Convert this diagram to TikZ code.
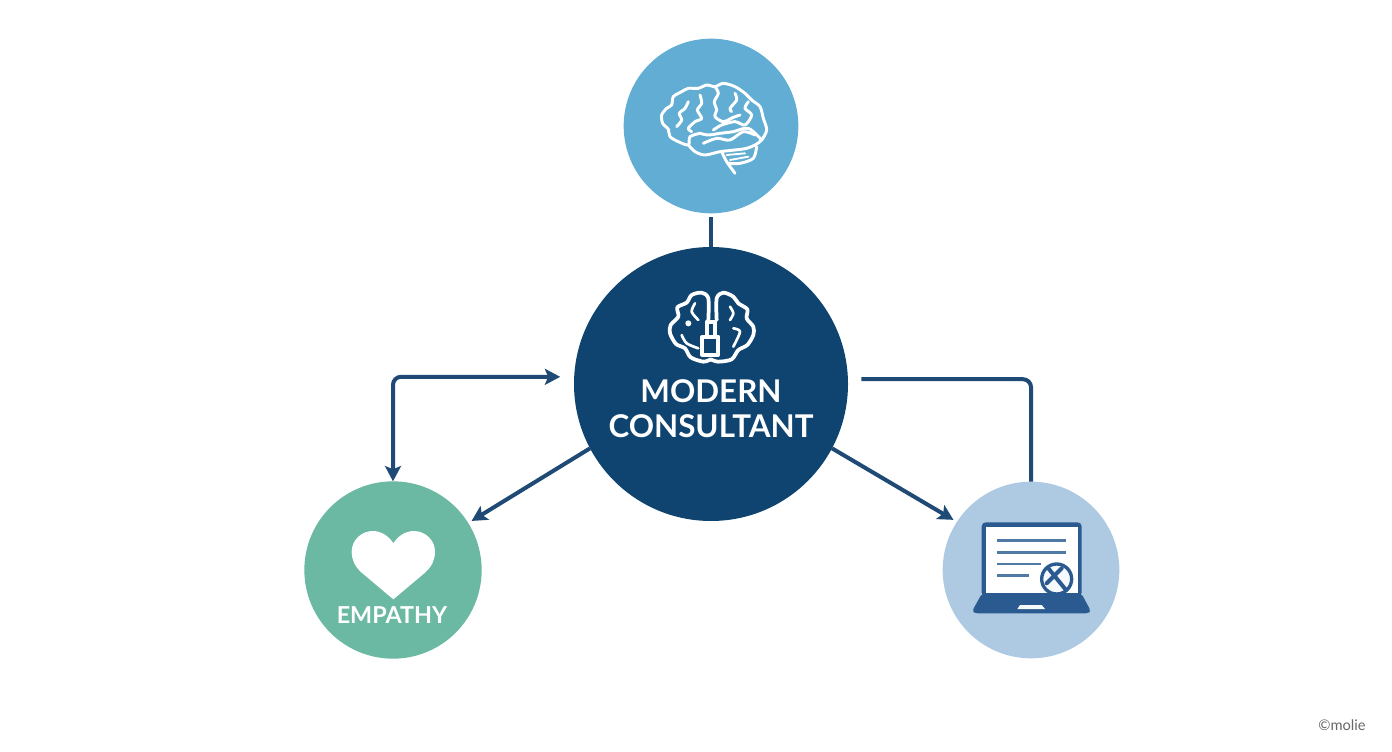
\documentclass[tikz,border=0pt]{standalone}
\usepackage{fontspec}
\setmainfont{Lato}
\usepackage{tikz}
\usetikzlibrary{arrows.meta}
\definecolor{coreblue}{HTML}{0F4470}
\definecolor{topblue}{HTML}{62ADD3}
\definecolor{leftgreen}{HTML}{6BB8A3}
\definecolor{rightblue}{HTML}{AECAE3}
\definecolor{linkblue}{HTML}{1F4A75}
\definecolor{lapblue}{HTML}{2A5A8F}
\definecolor{rowblue}{HTML}{4F7AA5}
\tikzset{
  >={Stealth[length=11.5pt,width=12pt,inset=2.5pt]},
  hub/.style={circle,inner sep=0pt,outer sep=0pt},
  link/.style={draw=linkblue,line width=3pt,rounded corners=6pt},
  wire/.style={white,line width=2.2pt,line cap=round,line join=round},
}
\begin{document}
\begin{tikzpicture}[x=.75pt,y=-.75pt]
\useasboundingbox (0,0) rectangle (1392,752);
\node[hub,fill=topblue,minimum size=131pt] (Top) at (711,126) {};
\node[hub,fill=coreblue,minimum size=205.5pt] (Core) at (711,384) {};
\node[hub,fill=leftgreen,minimum size=133pt] (Left) at (393,570) {};
\node[hub,fill=rightblue,minimum size=132.5pt] (Right) at (1031,570) {};
\draw[link,shorten <=3pt] (Top) -- (Core);
\draw[link,<->,shorten <=10.5pt] (Core.177.5) -| (Left.north);
\draw[link,shorten <=10pt] (Core.2.5) -| (Right.north);
\draw[link,->,shorten >=3pt] (Core.208) -- (Left.32);
\draw[link,->,shorten >=3pt] (Core.332.5) -- (Right.147);
\node[text=white,align=center,font=\bfseries\fontsize{23.5}{26.3}\selectfont] (Title) at (711,408.5) {MODERN\\CONSULTANT};
\node[text=white,font=\fontsize{17.5}{21}\selectfont\bfseries] (Empathy) at (392,615) {EMPATHY};
\node[text=black!60,font=\fontsize{11}{13}\selectfont] (Mark) at (1342,725) {©molie};
\begin{scope}[shift={(620,30)},x=.25pt,y=-.25pt]
\draw[wire] plot[smooth] coordinates {(240,310) (210,320) (205,345) (175,335) (150,320) (145,298) (128,280) (125,255) (140,235) (155,225) (160,200) (185,185) (205,175) (235,175) (260,165) (285,170) (310,160) (345,170) (375,190) (395,210) (420,230) (430,265) (440,300) (425,330) (405,345) (380,355) (345,360) (300,365) (255,375) (225,365) (205,345)};
\draw[wire] plot[smooth] coordinates {(285,170) (295,190) (283,215) (290,240) (285,260) (310,275) (340,262) (360,255)};
\draw[wire] plot[smooth] coordinates {(240,195) (245,220) (232,240) (245,265) (225,275) (205,295) (215,305)};
\draw[wire] plot[smooth] coordinates {(205,215) (195,235) (178,250) (185,270) (170,290)};
\draw[wire] plot[smooth] coordinates {(345,190) (350,210) (330,235) (335,245)};
\draw[wire] plot[smooth] coordinates {(385,215) (375,235) (395,255) (375,285) (345,275) (305,285) (280,300)};
\draw[wire] plot[smooth] coordinates {(240,310) (265,315) (300,310) (340,305) (385,295) (425,330)};
\draw[wire] plot[smooth] coordinates {(250,340) (290,325) (330,330) (370,305) (405,315)};
\draw[wire] plot[smooth] coordinates {(305,365) (320,395) (345,430)};
\draw[wire] plot[smooth] coordinates {(410,350) (400,385) (360,400) (325,400)};
\draw[wire,line width=1.4pt] (320,375) -- (375,370);
\draw[wire,line width=1.4pt] (330,390) -- (385,380);
\end{scope}
\begin{scope}[shift={(570,270)},x=.25pt,y=-.25pt]
\draw[wire,line width=2.8pt] plot[smooth] coordinates {(415,150) (415,85) (395,68) (365,75) (350,98) (322,112) (325,140) (302,165) (300,190) (318,222) (345,235) (362,262) (400,275) (422,268)};
\draw[wire,line width=2.8pt] plot[smooth] coordinates {(440,150) (440,85) (460,68) (490,80) (505,100) (532,118) (530,145) (550,170) (550,195) (532,225) (505,240) (485,268) (445,275) (422,268)};
\draw[wire,line width=2.8pt] (410,155) rectangle (435,200);
\draw[wire,line width=2.8pt] (397,200) rectangle (445,255);
\draw[wire,line width=2pt] plot[smooth] coordinates {(335,195) (350,220) (385,235)};
\draw[wire,line width=2pt] plot[smooth] coordinates {(375,100) (365,125) (385,150)};
\draw[wire,line width=2pt] plot[smooth] coordinates {(480,110) (490,130) (480,150)};
\draw[wire,line width=2pt] plot[smooth] coordinates {(490,175) (510,185) (490,230)};
\fill[white] (355,160) circle (9);
\end{scope}
\begin{scope}[shift={(300,480)},x=.25pt,y=-.25pt]
\fill[white] (280,358) -- (185,278) .. controls (165,260) and (155,240) .. (155,215) .. controls (155,180) and (185,153) .. (218,153) .. controls (245,153) and (268,170) .. (280,190) .. controls (292,170) and (315,153) .. (342,153) .. controls (375,153) and (405,180) .. (405,215) .. controls (405,240) and (395,260) .. (375,278) -- cycle;
\end{scope}
\begin{scope}[shift={(940,480)},x=.25pt,y=-.25pt]
\fill[lapblue,rounded corners=3pt] (125,127) rectangle (425,350);
\fill[white] (138,140) rectangle (413,340);
\fill[lapblue,rounded corners=2pt] (125,342) -- (425,342) -- (452,392) -- (445,400) -- (105,400) -- (97,392) -- cycle;
\fill[white!90!rightblue] (240,375) -- (305,375) -- (315,387) -- (232,387) -- cycle;
\foreach \y/\e in {182/378,217/378,252/303,287/267}\draw[rowblue,line width=2.2pt] (172,\y) -- (\e,\y);
\draw[lapblue,line width=2.5pt,fill=white!90!rightblue] (350,297) circle (45);
\draw[lapblue,line width=3pt,line cap=round] (325,265) -- (378,330);
\draw[lapblue,line width=3pt,line cap=round] (365,265) -- (320,310);
\end{scope}
\end{tikzpicture}
\end{document}
